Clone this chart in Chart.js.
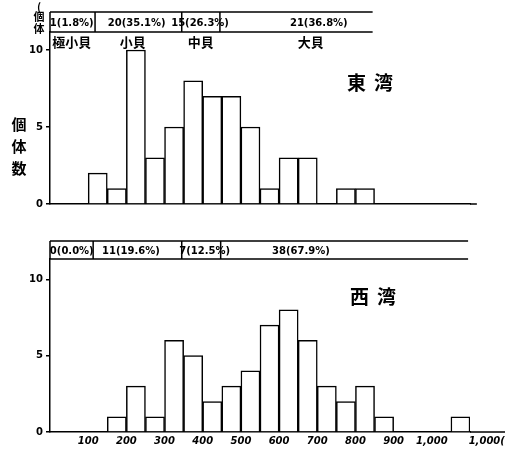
<!DOCTYPE html>
<html>
<head>
    <meta charset="utf-8">
    <title>東湾・西湾 個体数</title>
    <script src="https://cdn.jsdelivr.net/npm/chart.js"></script>
    <style>
        body {
            margin: 0;
            background-color: #ffffff;
        }
        .panel {
            position: absolute;
            left: 0;
            width: 505px;
        }
    </style>
</head>
<body>

    <div class="panel" style="top: 0; height: 225px;"><canvas id="eastChart" width="505" height="225"></canvas></div>
    <div class="panel" style="top: 225px; height: 224px;"><canvas id="westChart" width="505" height="224"></canvas></div>

    <script>
        // 50 g bins from 0 to 1,100 g
        var binStarts = [0, 50, 100, 150, 200, 250, 300, 350, 400, 450, 500, 550, 600, 650, 700, 750, 800, 850, 900, 950, 1000, 1050];
        var eastCounts = [0, 0, 2, 1, 10, 3, 5, 8, 7, 7, 5, 1, 3, 3, 0, 1, 1, 0, 0, 0, 0, 0];
        var westCounts = [0, 0, 0, 1, 3, 1, 6, 5, 2, 3, 4, 7, 8, 6, 3, 2, 3, 1, 0, 0, 0, 1];

        var xTickValues = [100, 200, 300, 400, 500, 600, 700, 800, 900, 1000, 1100];
        var xTickLabels = ['100', '200', '300', '400', '500', '600', '700', '800', '900', '1,000', '             1,000(g)'];
        var yTickLabels = ['0', '5', '10'];

        // size classes shown in the boxes above each plot
        var sizeNames = ['極小貝', '小貝', '中貝', '大貝'];
        var eastClassText = ['1(1.8%)', '20(35.1%)', '15(26.3%)', '21(36.8%)'];
        var eastClassEdges = [0, 118, 345, 445, 845];
        var westClassText = ['0(0.0%)', '11(19.6%)', '7(12.5%)', '38(67.9%)'];
        var westClassEdges = [0, 113, 345, 447, 1095];

        var cjk = '"Noto Sans CJK JP", sans-serif';
        var num = '"DejaVu Sans", sans-serif';

        // draws header boxes, axis tail and the hand lettering
        var sheetPlugin = {
            id: 'sheet',
            afterDraw: function(chart, args, opts) {
                var ctx = chart.ctx;
                var area = chart.chartArea;
                var xs = chart.scales.xl;
                var px = function(g) { return xs.getPixelForValue(g); };

                ctx.save();
                ctx.strokeStyle = '#000';
                ctx.lineWidth = 1.5;

                // x axis runs a little past the last bin
                ctx.beginPath();
                ctx.moveTo(area.right, area.bottom);
                ctx.lineTo(px(opts.axisEnd), area.bottom);
                ctx.stroke();

                // header box
                var edges = opts.edges;
                var left = px(edges[0]);
                var right = px(edges[edges.length - 1]);
                ctx.beginPath();
                ctx.moveTo(left, opts.top);
                ctx.lineTo(right, opts.top);
                ctx.moveTo(left, area.top);
                ctx.lineTo(right, area.top);
                for (var i = 0; i < edges.length - 1; i++) {
                    ctx.moveTo(px(edges[i]), opts.top);
                    ctx.lineTo(px(edges[i]), area.top);
                }
                ctx.stroke();

                ctx.fillStyle = '#000';
                ctx.textAlign = 'center';
                ctx.textBaseline = 'middle';
                ctx.font = 'bold 10px ' + num;
                opts.text.forEach(function(t, i) {
                    ctx.fillText(t, px(opts.textAt[i]), (opts.top + area.top) / 2 + 1);
                });

                if (opts.names) {
                    ctx.font = 'bold 13px ' + cjk;
                    opts.names.forEach(function(t, i) {
                        ctx.fillText(t, px(opts.namesAt[i]), area.top + 10);
                    });
                }

                // bay name
                ctx.font = 'bold 19px ' + cjk;
                ctx.letterSpacing = '8px';
                ctx.fillText(opts.title, opts.titleX + 4, opts.titleY);
                ctx.letterSpacing = '0px';

                // y axis caption, stacked upright
                if (opts.yCaption) {
                    ctx.font = 'bold 15px ' + cjk;
                    opts.yCaption.split('').forEach(function(c, i) {
                        ctx.fillText(c, 19, 124 + i * 22);
                    });
                    ctx.font = 'bold 11px ' + cjk;
                    ctx.fillText('(', 39, 7);
                    ctx.fillText('個', 39, 17);
                    ctx.fillText('体', 39, 29);
                }
                ctx.restore();
            }
        };

        function createChart(canvasId, counts, yMax, padTop, axisHeight, showLabels, sheet) {
            var ctx = document.getElementById(canvasId).getContext('2d');
            return new Chart(ctx, {
                type: 'bar',
                plugins: [sheetPlugin],
                data: {
                    labels: binStarts,
                    datasets: [{
                        data: counts,
                        backgroundColor: '#ffffff',
                        borderColor: '#000000',
                        borderWidth: 1.5,
                        categoryPercentage: 1,
                        barPercentage: 1,
                        xAxisID: 'x'
                    }]
                },
                options: {
                    responsive: false,
                    animation: false,
                    events: [],
                    layout: { padding: { top: padTop, right: 35, left: 0, bottom: 0 } },
                    plugins: {
                        legend: { display: false },
                        tooltip: { enabled: false },
                        sheet: sheet
                    },
                    scales: {
                        x: { display: false },
                        xl: {
                            type: 'linear',
                            position: 'bottom',
                            offset: false,
                            min: 0,
                            max: 1100,
                            afterFit: function(s) {
                                s.height = axisHeight;
                                s.paddingRight = 0; // let the last label run off the edge
                            },
                            border: { color: '#000', width: 1.5 },
                            grid: { display: false, drawTicks: false, offset: false },
                            afterBuildTicks: function(s) {
                                s.ticks = xTickValues.map(function(v) { return { value: v }; });
                            },
                            ticks: {
                                display: showLabels,
                                autoSkip: false,
                                maxRotation: 0,
                                padding: 3,
                                color: '#000',
                                font: { family: num, size: 10, weight: 'bold', style: 'italic' },
                                callback: function(v) {
                                    return xTickLabels[xTickValues.indexOf(v)];
                                }
                            }
                        },
                        y: {
                            min: 0,
                            max: yMax,
                            afterFit: function(s) { s.width = 50; },
                            border: { color: '#000', width: 1.5 },
                            grid: { drawOnChartArea: false, tickLength: 4, color: '#000', lineWidth: 1.5 },
                            ticks: {
                                stepSize: 5,
                                includeBounds: false,
                                padding: 3,
                                color: '#000',
                                font: { family: num, size: 10, weight: 'bold' },
                                callback: function(v) { return yTickLabels[v / 5]; }
                            }
                        }
                    }
                }
            });
        }

        createChart('eastChart', eastCounts, 11.17, 32, 21, false, {
            top: 12,
            edges: eastClassEdges,
            text: eastClassText,
            textAt: [57, 227, 393, 704],
            names: sizeNames,
            namesAt: [57, 217, 395, 683],
            title: '東湾',
            titleX: 370,
            titleY: 83,
            axisEnd: 1118,
            yCaption: '個体数'
        });

        createChart('westChart', westCounts, 11.33, 34, 17, true, {
            top: 16,
            edges: westClassEdges,
            text: westClassText,
            textAt: [57, 212, 405, 657],
            title: '西湾',
            titleX: 373,
            titleY: 72,
            axisEnd: 1192
        });
    </script>
</body>
</html>
